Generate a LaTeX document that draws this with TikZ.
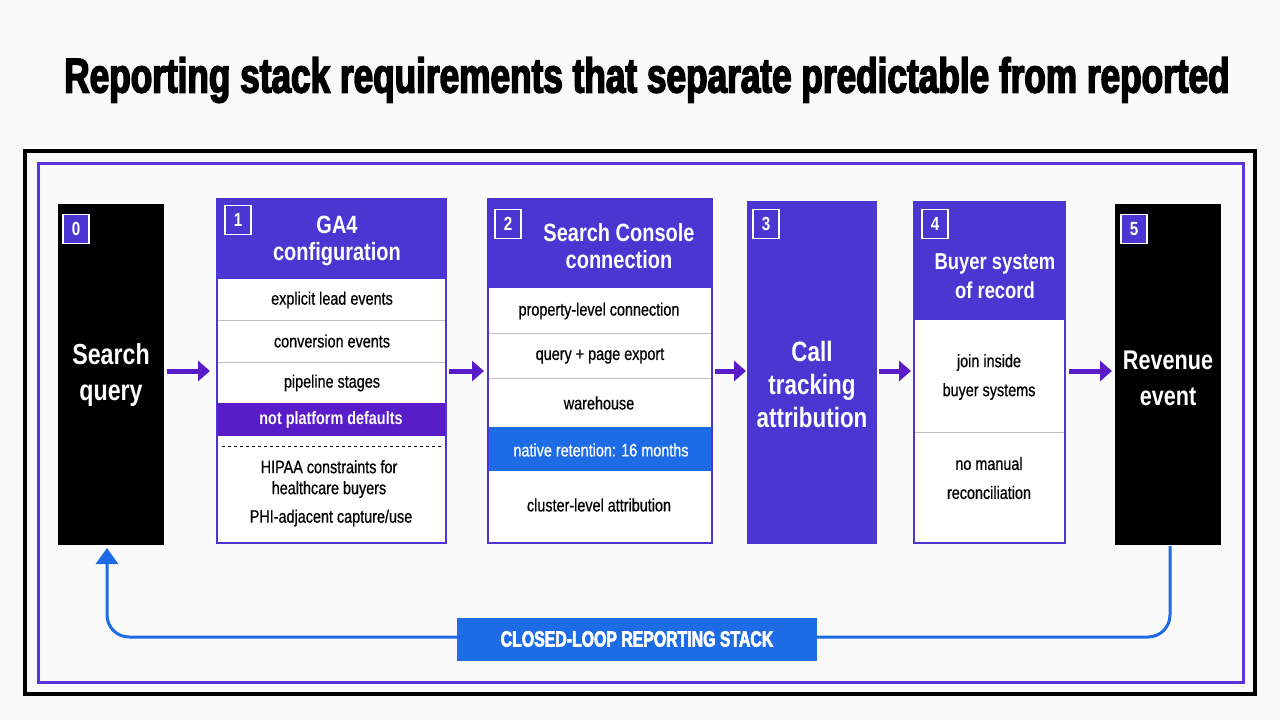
\documentclass[tikz,border=0pt]{standalone}
\usepackage{fontspec}
\setmainfont{Liberation Sans}[FakeStretch=0.8]
\newfontfamily\titlefont{Liberation Sans}[FakeStretch=0.72,BoldFeatures={FakeBold=3}]
\newfontfamily\rowfont{Liberation Sans}[FakeStretch=0.8,FakeBold=0.6]
\usetikzlibrary{arrows.meta}
\definecolor{pur}{HTML}{4B36D2}
\definecolor{dpur}{HTML}{5A1CC8}
\definecolor{blu}{HTML}{1E6BE6}
\definecolor{frm}{HTML}{5B35D9}
\begin{document}
\begin{tikzpicture}[x=1pt,y=-1pt,
  hdr/.style={font=\bfseries\fontsize{25}{27}\selectfont,text=white,align=center},
  row/.style={font=\rowfont\fontsize{18}{21}\selectfont,align=center},
  sep/.style={draw=gray!50,line width=0.8pt},
  badge/.style={draw=white,line width=1.2pt,fill=pur,text=white,font=\bfseries\fontsize{19}{19}\selectfont,minimum width=26pt,minimum height=29pt,inner sep=0pt},
  box/.style={draw=pur,line width=1.5pt},
  arr/.style={-{Triangle[length=12pt,width=20pt]},line width=5pt,draw=dpur}]
\fill[white!96!gray] (0,0) rectangle (1280,720);
\node[font=\titlefont\bfseries] (title) at (647,80) {\resizebox{1165pt}{!}{Reporting stack requirements that separate predictable from reported}};
\draw[line width=4pt] (25,151) rectangle (1255,694);
\draw[frm,line width=3pt] (38,163) rectangle (1243,682);
% box 0
\fill[black] (58,204) rectangle (164,545);
\node[badge] (b0) at (76,229) {0};
\node[hdr,font=\bfseries\fontsize{29}{36}\selectfont] (t0) at (111,375) {Search\\query};
% box 1
\fill[white] (217,199) rectangle (446,543);
\fill[pur] (217,199) rectangle (446,279);
\fill[dpur] (217,403) rectangle (446,436);
\draw[sep] (217,320)--(446,320); \draw[sep] (217,362)--(446,362);
\draw[dashed,line width=0.8pt] (222,446)--(441,446);
\draw[box] (217,199) rectangle (446,543);
\node[badge] (b1) at (238,220) {1};
\node[hdr] (t1) at (337,241) {GA4\\configuration};
\node[row] (r11) at (332,300) {explicit lead events};
\node[row] (r12) at (332,341) {conversion events};
\node[row] (r13) at (332,383) {pipeline stages};
\node[row,text=white,font=\bfseries\fontsize{18}{20}\selectfont] (r14) at (331,420) {not platform defaults};
\node[row] (r15) at (329,479) {HIPAA constraints for\\healthcare buyers};
\node[row] (r16) at (331,518) {PHI-adjacent capture/use};
% box 2
\fill[white] (488,199) rectangle (712,543);
\fill[pur] (488,199) rectangle (712,288);
\fill[blu] (488,427) rectangle (712,471);
\draw[sep] (488,333)--(712,333); \draw[sep] (488,378)--(712,378);
\draw[box] (488,199) rectangle (712,543);
\node[badge] (b2) at (508,224) {2};
\node[hdr] (t2) at (619,246) {Search Console\\connection};
\node[row] (r21) at (599,311) {property-level connection};
\node[row] (r22) at (600,356) {query + page export};
\node[row] (r23) at (599,403) {warehouse};
\node[row,text=white] (r24) at (601,450) {native retention: 16 months};
\node[row] (r25) at (599,505) {cluster-level attribution};
% box 3
\fill[pur] (748,202) rectangle (876,543);
\draw[box] (748,202) rectangle (876,543);
\node[badge] (b3) at (766,224) {3};
\node[hdr,font=\bfseries\fontsize{28}{33}\selectfont] (t3) at (812,384) {Call\\tracking\\attribution};
% box 4
\fill[white] (914,202) rectangle (1065,543);
\fill[pur] (914,202) rectangle (1065,320);
\draw[sep] (914,432)--(1065,432);
\draw[box] (914,202) rectangle (1065,543);
\node[badge] (b4) at (935,224) {4};
\node[hdr,font=\bfseries\fontsize{23}{29}\selectfont] (t4) at (995,276) {Buyer system\\of record};
\node[row,font=\rowfont\fontsize{18}{29}\selectfont] (r41) at (989,377) {join inside\\buyer systems};
\node[row,font=\rowfont\fontsize{18}{29}\selectfont] (r42) at (989,478) {no manual\\reconciliation};
% box 5
\fill[black] (1115,204) rectangle (1221,545);
\node[badge] (b5) at (1134,229) {5};
\node[hdr,font=\bfseries\fontsize{27}{36}\selectfont] (t5) at (1168,378) {Revenue\\event};
% arrows
\coordinate (a0) at (167,371); \coordinate (a0e) at (210,371);
\coordinate (a1) at (449,371); \coordinate (a1e) at (484,371);
\coordinate (a2) at (715,371); \coordinate (a2e) at (746,371);
\coordinate (a3) at (879,371); \coordinate (a3e) at (911,371);
\coordinate (a4) at (1069,371); \coordinate (a4e) at (1112,371);
\draw[arr] (a0)--(a0e); \draw[arr] (a1)--(a1e); \draw[arr] (a2)--(a2e);
\draw[arr] (a3)--(a3e); \draw[arr] (a4)--(a4e);
% loop
\coordinate (l0) at (1170,546); \coordinate (l1) at (107,548);
\draw[blu,line width=3pt,rounded corners=22pt,-{Triangle[length=16pt,width=22pt]}] (l0)--(1170,637)--(107,637)--(l1);
\node[fill=blu,text=white,font=\titlefont\bfseries\fontsize{22}{22}\selectfont,minimum width=360pt,minimum height=43pt] (loop) at (637,639) {CLOSED-LOOP REPORTING STACK};
\end{tikzpicture}
\end{document}
